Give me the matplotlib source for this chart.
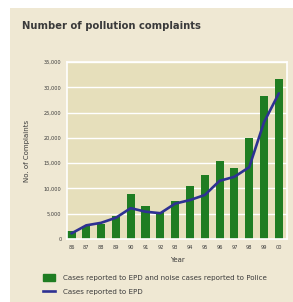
import matplotlib
matplotlib.use("Agg")
import matplotlib.pyplot as plt
from matplotlib.patches import Rectangle
from matplotlib.lines import Line2D

# ----- Data -----
years = ["86", "87", "88", "89", "90", "91", "92", "93", "94", "95",
         "96", "97", "98", "99", "00"]
total_cases = [1500, 2600, 2900, 4600, 8900, 6500, 5300, 7600, 10500, 12700,
               15500, 14000, 20000, 28300, 31700]
epo_cases = [1100, 2700, 3200, 4200, 6100, 5400, 5100, 7000, 7700, 8700,
             11500, 12300, 14200, 23100, 28800]
yticks = [0, 5000, 10000, 15000, 20000, 25000, 30000, 35000]

panel_bg = "#efe8d3"
plot_bg = "#e6dfbb"
green = "#1f7d22"
blue = "#2e3192"
text_col = "#3a3a3a"

fig = plt.figure(figsize=(2.93, 3.02), dpi=100)
fig.patch.set_facecolor("white")
fig.patches.append(Rectangle((10 / 293, 0), 1, 1 - 8 / 302,
                             transform=fig.transFigure, facecolor=panel_bg,
                             edgecolor="none", zorder=-10))

fig.text(22 / 293, 1 - 26 / 302, "Number of pollution complaints",
         fontsize=7.2, fontweight="bold", color=text_col, va="center")

ax = fig.add_axes([67 / 293, 1 - 239 / 302, 220 / 293, 177 / 302])
ax.set_facecolor(plot_bg)
x = list(range(len(years)))
ax.bar(x, total_cases, width=0.55, color=green, zorder=2)
ax.plot(x, epo_cases, color=blue, lw=1.9, zorder=3, solid_capstyle="round")

ax.set_xlim(-0.3, 14.55)
ax.set_ylim(0, 35000)
ax.set_yticks(yticks)
ax.set_yticklabels([f"{v:,}" for v in yticks])
ax.set_xticks(x)
ax.set_xticklabels(years)
ax.tick_params(length=0, labelsize=3.6, labelcolor=text_col, pad=4)
ax.grid(axis="y", color="white", lw=1.0, zorder=1)
for s in ax.spines.values():
    s.set_color("white")
    s.set_linewidth(1.2)

ax.set_xlabel("Year", fontsize=5, color=text_col, labelpad=5)
ax.set_ylabel("No. of Complaints", fontsize=5, color=text_col, labelpad=10)

handles = [Rectangle((0, 0), 1, 1, color=green),
           Line2D([0], [0], color=blue, lw=1.9)]
labels = ["Cases reported to EPD and noise cases reported to Police",
          "Cases reported to EPD"]
fig.legend(handles, labels, loc="upper left",
           bbox_to_anchor=(43 / 293, 1 - 274 / 302), frameon=False,
           borderpad=0, borderaxespad=0,
           fontsize=5.1, labelcolor=text_col, handlelength=1.75,
           handleheight=1.1, handletextpad=1.1, labelspacing=1.05)

fig.savefig("out.png", dpi=100, facecolor=fig.get_facecolor())
